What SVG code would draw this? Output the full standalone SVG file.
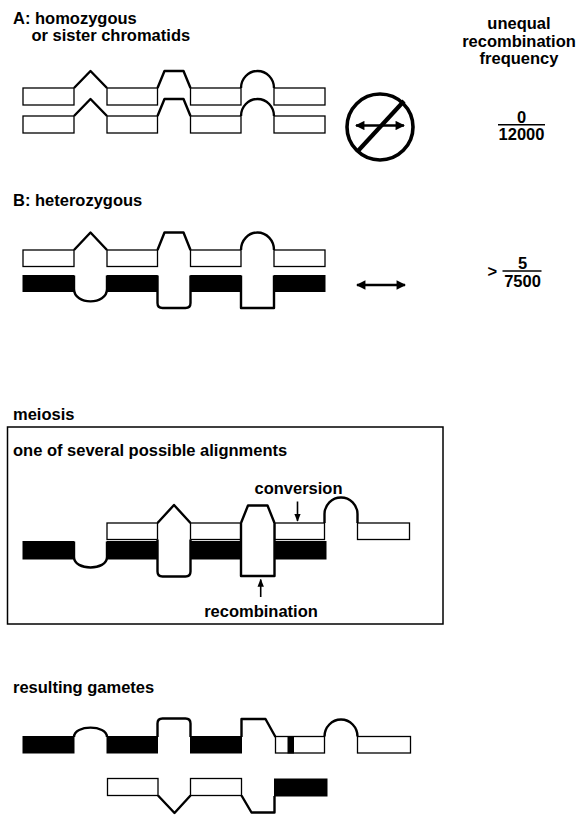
<svg xmlns="http://www.w3.org/2000/svg" width="580" height="815" viewBox="0 0 580 815">
<style>
.t{font-family:"Liberation Sans",Arial,Helvetica,sans-serif;font-weight:bold;font-size:16.5px;fill:#000}
.m{text-anchor:middle}
.box{fill:#fff;stroke:#000;stroke-width:1.3}
.blk{fill:#000;stroke:#000;stroke-width:1}
.bump{fill:#fff;stroke:#000;stroke-width:2.4;stroke-linejoin:round}
.ln{stroke:#000;fill:none}
</style>
<defs>
<marker id="ah" viewBox="0 0 10 10" refX="9" refY="5" markerWidth="4" markerHeight="3.6" orient="auto-start-reverse" markerUnits="strokeWidth">
<path d="M0,0 L10,5 L0,10 z" fill="#000"/>
</marker>
<marker id="ahs" viewBox="0 0 10 10" refX="9" refY="5" markerWidth="5" markerHeight="5" orient="auto-start-reverse" markerUnits="strokeWidth">
<path d="M0,1 L10,5 L0,9 z" fill="#000"/>
</marker>
</defs>

<g id="labels">
<text class="t" x="13" y="23.5">A: homozygous</text>
<text class="t" x="31.5" y="40.5">or sister chromatids</text>
<text class="t m" x="519" y="29">unequal</text>
<text class="t m" x="519" y="46.5">recombination</text>
<text class="t m" x="519" y="64">frequency</text>
<text class="t" x="13" y="206">B: heterozygous</text>
<text class="t" x="13" y="420">meiosis</text>
<text class="t" x="13" y="693">resulting gametes</text>
</g>

<g id="chromatidA1">
<path class="bump" d="M74,88 L90.5,71 L107,88"/>
<path class="bump" d="M157.5,88 L164.5,71 H183.5 L190.5,88"/>
<path class="bump" d="M241,88 A16.5,17 0 0 1 274,88"/>
<rect class="box" x="23" y="88" width="51" height="17"/>
<rect class="box" x="107" y="88" width="50.5" height="17"/>
<rect class="box" x="190.5" y="88" width="50.5" height="17"/>
<rect class="box" x="274" y="88" width="51" height="17"/>
</g>
<g id="chromatidA2">
<path class="bump" d="M74,116 L90.5,99 L107,116"/>
<path class="bump" d="M157.5,116 L164.5,99 H183.5 L190.5,116"/>
<path class="bump" d="M241,116 A16.5,17 0 0 1 274,116"/>
<rect class="box" x="23" y="116" width="51" height="17"/>
<rect class="box" x="107" y="116" width="50.5" height="17"/>
<rect class="box" x="190.5" y="116" width="50.5" height="17"/>
<rect class="box" x="274" y="116" width="51" height="17"/>
</g>

<g id="noRecombination">
<circle cx="380" cy="127" r="33" fill="none" stroke="#000" stroke-width="3.6"/>
<line class="ln" x1="356" y1="125.5" x2="404" y2="125.5" stroke-width="2.6" marker-start="url(#ah)" marker-end="url(#ah)"/>
<line class="ln" x1="357" y1="152" x2="404" y2="101" stroke-width="4.2"/>
</g>
<g id="fracA">
<text class="t m" x="521.5" y="122.5">0</text>
<line class="ln" x1="498" y1="124.8" x2="545" y2="124.8" stroke-width="1.6"/>
<text class="t m" x="521.5" y="140">12000</text>
</g>

<g id="whiteB">
<path class="bump" d="M74,250 L90.5,232.5 L107,250"/>
<path class="bump" d="M157.5,250 L164.5,232.5 H183.5 L190.5,250"/>
<path class="bump" d="M241,250 A16.5,17.5 0 0 1 274,250"/>
<rect class="box" x="23" y="250" width="51" height="16.5"/>
<rect class="box" x="107" y="250" width="50.5" height="16.5"/>
<rect class="box" x="190.5" y="250" width="50.5" height="16.5"/>
<rect class="box" x="274" y="250" width="51" height="16.5"/>
</g>
<g id="blackB">
<rect class="blk" x="23" y="275.5" width="51" height="16"/>
<rect class="blk" x="107" y="275.5" width="50.5" height="16"/>
<rect class="blk" x="190.5" y="275.5" width="50.5" height="16"/>
<rect class="blk" x="274" y="275.5" width="51" height="16"/>
<path class="bump" d="M74,275.5 V289 C74,305.5 107,305.5 107,289 V275.5"/>
<path class="bump" d="M157.5,275.5 V303 Q157.5,308 162.5,308 H185.5 Q190.5,308 190.5,303 V275.5"/>
<path class="bump" d="M241,275.5 V308 H274 V275.5"/>
</g>
<g id="recombinationB">
<line class="ln" x1="357" y1="285" x2="405" y2="285" stroke-width="2.6" marker-start="url(#ah)" marker-end="url(#ah)"/>
</g>
<g id="fracB">
<text class="t" x="487.5" y="277">&gt;</text>
<text class="t m" x="522.5" y="269">5</text>
<line class="ln" x1="502.5" y1="271" x2="541.5" y2="271" stroke-width="1.6"/>
<text class="t m" x="522.5" y="286.5">7500</text>
</g>

<g id="meiosisBox">
<rect x="7.5" y="427" width="435.5" height="197" fill="none" stroke="#000" stroke-width="1.5"/>
<text class="t" x="13" y="456">one of several possible alignments</text>
</g>
<g id="whiteMeiosis">
<path class="bump" d="M157.5,523 L174,505 L190.5,523"/>
<path class="bump" d="M241,523 L248,505.5 H267.5 L274.5,523"/>
<path class="bump" d="M324.5,523 V514 A16.5,16.5 0 0 1 357.5,514 V523"/>
<rect class="box" x="107" y="523" width="50.5" height="16.5"/>
<rect class="box" x="190.5" y="523" width="50.5" height="16.5"/>
<rect class="box" x="274.5" y="523" width="50" height="16.5"/>
<rect class="box" x="357.5" y="523" width="52" height="16.5"/>
</g>
<g id="blackMeiosis">
<rect class="blk" x="23" y="541.5" width="51" height="17.5"/>
<rect class="blk" x="107" y="541.5" width="50.5" height="17.5"/>
<rect class="blk" x="190.5" y="541.5" width="50.5" height="17.5"/>
<rect class="blk" x="274.5" y="541.5" width="51.5" height="17.5"/>
<path class="bump" d="M74,541.5 V557 C74,571 107,571 107,557 V541.5"/>
<path class="bump" d="M157.5,539.5 V571.5 Q157.5,576.5 162.5,576.5 H185.5 Q190.5,576.5 190.5,571.5 V539.5"/>
<path class="bump" d="M241,523 V576 H274.5 V523"/>
</g>
<g id="conversion">
<text class="t m" x="298.5" y="493.5">conversion</text>
<line class="ln" x1="297.5" y1="501.5" x2="297.5" y2="521" stroke-width="1.6" marker-end="url(#ahs)"/>
</g>
<g id="recombination">
<text class="t m" x="261" y="616.5">recombination</text>
<line class="ln" x1="260.7" y1="597" x2="260.7" y2="579.5" stroke-width="1.6" marker-end="url(#ahs)"/>
</g>

<g id="gamete1">
<rect class="blk" x="23" y="736.5" width="51" height="16.5"/>
<rect class="blk" x="107" y="736.5" width="50.5" height="16.5"/>
<rect class="blk" x="190.5" y="736.5" width="51" height="16.5"/>
<path class="bump" d="M74,737 C74,724.5 107,724.5 107,737"/>
<path class="bump" d="M157.5,737 V723.5 Q157.5,718.5 162.5,718.5 H185.5 Q190.5,718.5 190.5,723.5 V737"/>
<path class="bump" d="M241.5,737 V719 H265.5 L275.5,737"/>
<path class="bump" d="M324.5,736.5 A16.5,17 0 0 1 357.5,736.5"/>
<rect class="box" x="275.5" y="736.5" width="49" height="16.5"/>
<rect class="blk" x="288" y="736.5" width="5.5" height="16.5"/>
<rect class="box" x="357.5" y="736.5" width="53" height="16.5"/>
</g>
<g id="gamete2">
<path class="bump" d="M158,795.5 L174.5,813 L190.5,795.5"/>
<path class="bump" d="M241.5,795.5 L251.5,812.5 H274.5 V796"/>
<rect class="box" x="107.5" y="778.5" width="50.5" height="17"/>
<rect class="box" x="190.5" y="778.5" width="51" height="17"/>
<rect class="blk" x="274.5" y="779" width="52.5" height="17"/>
</g>
</svg>
